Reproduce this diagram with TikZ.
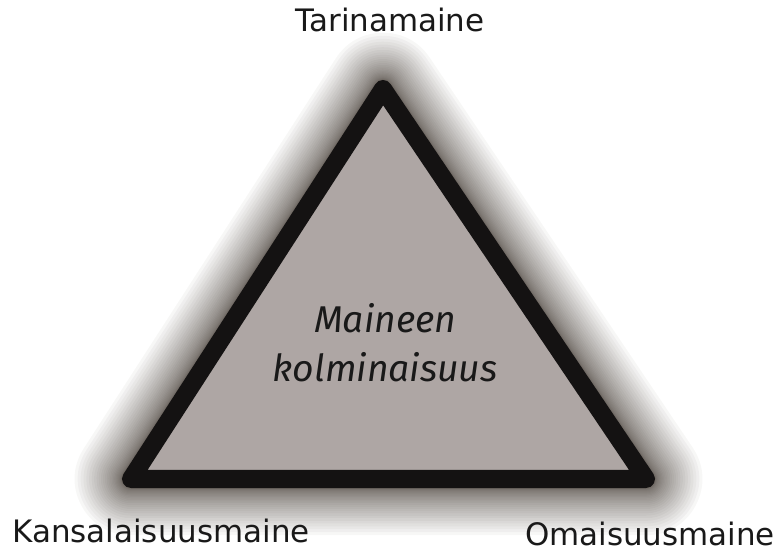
\documentclass[tikz,border=0pt]{standalone}
\usepackage{fontspec}
\setmainfont{DejaVu Sans}
\newfontfamily\innerfont{Fira Sans}
\definecolor{trifill}{RGB}{174,166,164}
\definecolor{triline}{RGB}{20,18,18}
\definecolor{labeltext}{RGB}{25,25,25}
\tikzset{
  corner/.style={font=\fontsize{22}{26}\selectfont, text=labeltext, inner sep=0pt,
    anchor=base},
  innertext/.style={font=\innerfont\fontsize{26.5}{35}\selectfont\itshape,
    text=labeltext, align=center, inner sep=0pt},
  trishape/.style={fill=trifill, draw=triline, line width=0.45cm, line join=round},
  glow/.style={draw=black!85!brown, line join=round, draw opacity=0.036}
}
\begin{document}
\begin{tikzpicture}[x=0.025cm, y=-0.025cm]
\useasboundingbox (0,0) rectangle (776,556);
\coordinate (top)   at (383,89);
\coordinate (left)  at (131,479);
\coordinate (right) at (646,479);
% soft dark glow round the triangle
\foreach \i in {1,...,30}{
  \pgfmathsetmacro{\glowwd}{0.025*(18+0.105*\i*\i)}
  \draw[glow, line width=\glowwd cm] (top) -- (right) -- (left) -- cycle;
}
\path[trishape] (top) -- (right) -- (left) -- cycle;
\node (kolm) [innertext] at (385,343) {Maineen\\kolminaisuus};
\node (tarina)   [corner] at (390,32)  {Tarinamaine};
\node (kansalai) [corner] at (161,542) {Kansalaisuusmaine};
\node (omaisuus) [corner] at (650,545) {Omaisuusmaine};
\end{tikzpicture}
\end{document}
